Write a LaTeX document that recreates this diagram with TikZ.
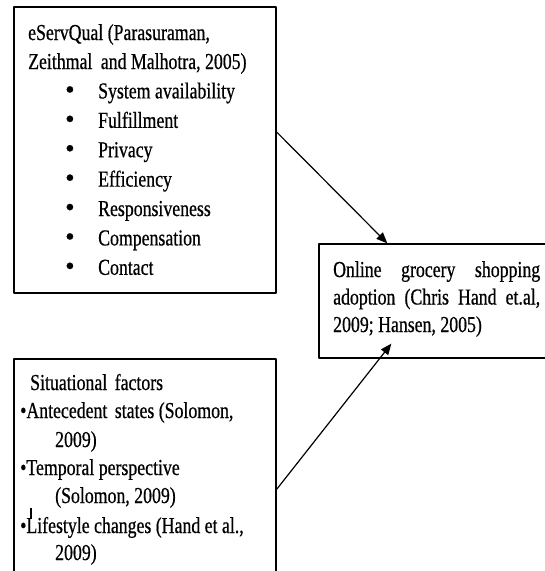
\documentclass[tikz,border=0pt]{standalone}
\usepackage{fontspec}
\setmainfont[FakeStretch=0.78,FakeBold=0.6]{Liberation Serif}
\newfontfamily\dotfont[FakeBold=0.6]{Liberation Serif}
\usetikzlibrary{arrows.meta}
\begin{document}
\begin{tikzpicture}[x=1pt,y=-1pt,line join=round,>={Triangle[length=11pt,width=9pt]}]
\tikzset{box/.style={draw,line width=1.3pt,inner sep=0pt},
  txt/.style={anchor=base west,inner sep=0pt,font=\fontsize{22.8}{26}\selectfont}}
\clip (0,0) rectangle (545,571);
\node[box,minimum width=262pt,minimum height=286pt] (qual) at (145,150) {};
\node[box,minimum width=262pt,minimum height=236pt] (situ) at (145,477) {};
\node[box,minimum width=250pt,minimum height=114pt] (adopt) at (444,301) {};
% eServQual box
\node[txt] (qhead) at (28,40) {eServQual (Parasuraman,};
\node[txt] (qauth) at (28,69) {Zeithmal\hspace{4pt} and Malhotra, 2005)};
\foreach \lbl [count=\i] in {System availability,Fulfillment,Privacy,Efficiency,Responsiveness,Compensation,Contact}
{
	\node[txt] (qdot\i) at (65,{69+\i*29.4}) {\dotfont\fontsize{27}{27}\selectfont\textbullet};
	\node[txt] (qitem\i) at (98,{69+\i*29.4}) {\lbl};
}
% adoption box
\node[txt] (aline1) at (333,277) {\makebox[207pt][s]{Online grocery shopping}};
\node[txt] (aline2) at (333,304.5) {\makebox[207pt][s]{adoption (Chris Hand et.al,}};
\node[txt] (aline3) at (333,332) {2009; Hansen, 2005)};
% situational box
\node[txt] (shead) at (30,390) {Situational\hspace{3pt} factors};
\node[txt] (sitem1) at (20,418) {\textbullet Antecedent\hspace{3pt} states (Solomon,};
\node[txt] (syear1) at (55,447) {2009)};
\node[txt] (sitem2) at (20,475) {\textbullet Temporal perspective};
\node[txt] (syear2) at (55,503) {(Solomon, 2009)};
\node[txt] (sitem3) at (20,533) {\textbullet Lifestyle changes (Hand et al.,};
\node[txt] (syear3) at (55,560) {2009)};
\draw[line width=2pt] (31,508) -- (31,519);
% arrows
\draw[->,line width=1.2pt] ([yshift=18pt]qual.east) -- ([xshift=69pt]adopt.north west);
\draw[->,line width=1.2pt] ([yshift=-131pt]situ.north east) -- ([xshift=73pt,yshift=15pt]adopt.south west);
\end{tikzpicture}
\end{document}
